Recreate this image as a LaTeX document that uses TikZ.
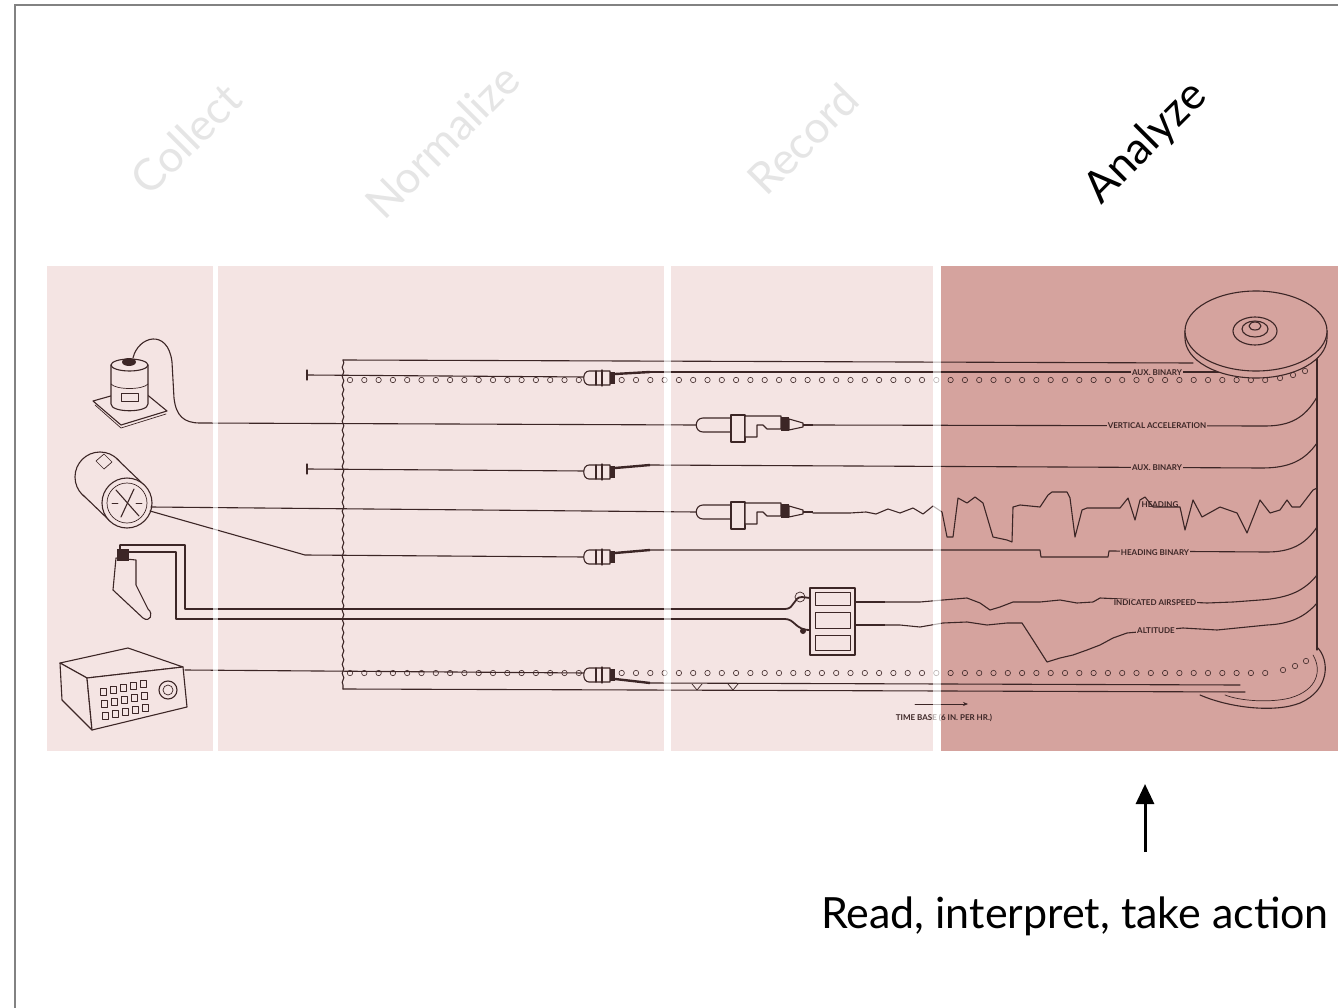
\documentclass[tikz,border=0pt]{standalone}
\usepackage{fontspec}
\setmainfont{Lato}
\usetikzlibrary{arrows.meta,decorations.pathmorphing}
\definecolor{panelL}{RGB}{244,228,227}
\definecolor{panelD}{RGB}{213,163,158}
\definecolor{inkc}{RGB}{60,38,38}
\definecolor{titlegray}{RGB}{229,229,229}
\definecolor{bordergray}{RGB}{130,130,130}
\begin{document}
\begin{tikzpicture}[x=1pt,y=-1pt,
  ink/.style={draw=inkc, line width=1.1pt, line cap=round, line join=round},
  thinink/.style={draw=inkc, line width=0.7pt, line cap=round, line join=round},
  heavy/.style={draw=inkc, line width=1.8pt, line join=round},
  pen/.style={draw=inkc, line width=2.4pt},
  hole/.style={draw=inkc, line width=0.6pt},
  tagfont/.style={font=\fontsize{8}{9}\selectfont\bfseries, text=inkc},
  tag/.style={tagfont, fill=panelD, inner sep=1.2pt},
  title/.style={rotate=45, font=\fontsize{44}{44}\selectfont, inner sep=0pt},
  smallconn/.pic={
    \draw[ink, fill=panelL] (-11,-7) -- (10,-7) -- (10,7) -- (-11,7) .. controls (-18,7) and (-18,-7) .. (-11,-7) -- cycle;
    \draw[ink] (-4,-7) -- (-4,7);
    \draw[ink] (2,-8) -- (2,8);
    \fill[inkc] (10,-6) rectangle (15,6);
  },
  penunit/.pic={
    \draw[ink, fill=panelL] (8,-7) .. controls (-1,-7) and (-1,7) .. (8,7) -- (36,7) -- (36,-7) -- cycle;
    \draw[ink, fill=panelL] (36,-10) rectangle (50,17);
    \draw[ink, fill=panelL] (50,-9) -- (86,-9) -- (86,4) -- (72,4) -- (68,0) -- (62,0) -- (62,12) -- (50,12) -- cycle;
    \fill[inkc] (86,-8) rectangle (94,6);
    \draw[ink, fill=panelL] (94,-6) -- (108,-2) -- (108,2) -- (94,5) -- cycle;
    \draw[heavy] (108,0) -- (118,0);
  }
]
\useasboundingbox (0,0) rectangle (1338,1008);
\fill[white] (0,0) rectangle (1338,1008);

% panels
\fill[panelL] (47,266) rectangle (213,751);
\fill[panelL] (218,266) rectangle (664,751);
\fill[panelL] (671,266) rectangle (933,751);
\fill[panelD] (941,266) rectangle (1338,751);

% tape frame
\draw[ink, decorate, decoration={snake, amplitude=0.8pt, segment length=9pt}] (343,360) -- (343,689);
\draw[ink] (343,360) -- (1193,363);
\draw[ink] (343,689) -- (1245,692);

% sprocket holes
\foreach \i in {0,...,64} \draw[hole] ({350+\i*14.3},380) circle (2.7);
\foreach \p in {(1280,378),(1293,375),(1305,371)} \draw[hole] \p circle (2.7);
\foreach \i in {0,...,64} \draw[hole] ({350+\i*14.3},673) circle (2.7);
\foreach \p in {(1283,670),(1295,666),(1306,661)} \draw[hole] \p circle (2.7);

% ---------- sensor 1 : accelerometer ----------
\draw[ink, fill=panelL] (93,401) -- (121,425) -- (167,411) -- (139,388) -- cycle;
\draw[thinink] (95,405) -- (121,428) -- (166,414);
\draw[ink, fill=panelL] (111,365) -- (111,404) .. controls (111,413) and (148,413) .. (148,404) -- (148,365);
\draw[ink, fill=panelL] (129.5,365) ellipse [x radius=18.5, y radius=6];
\draw[thinink] (111,384) .. controls (116,390) and (143,390) .. (148,384);
\draw[thinink] (121,393) rectangle (138,401);
\fill[inkc] (129,362) ellipse [x radius=7, y radius=4];
\coordinate (s1out) at (133,358);
\draw[ink] (s1out) .. controls (138,336) and (168,328) .. (172,362) -- (174,398) .. controls (176,416) and (184,423) .. (200,423) -- (696,425);

% ---------- sensor 2 : cylinder gauge ----------
\draw[ink, fill=panelL] (100,477) circle (25);
\fill[panelL] (144,485) -- (117,459) -- (83,495) -- (110,521) -- cycle;
\draw[ink] (144,485) -- (117,459);
\draw[ink] (83,495) -- (110,521);
\draw[thinink] (96,461) -- (104,454) -- (112,462) -- (104,469) -- cycle;
\draw[ink, fill=panelL] (127,503) circle (25);
\draw[thinink] (127,503) circle (20);
\draw[ink] (116,490) -- (139,516);
\draw[ink] (121,517) -- (134,489);
\draw[thinink] (112,503) -- (118,503);
\draw[thinink] (136,503) -- (142,503);
\coordinate (s2a) at (151,507);
\coordinate (s2b) at (150,511);
\draw[ink] (s2a) -- (696,512);
\draw[ink] (s2b) -- (305,555) -- (585,557);

% ---------- sensor 3 : pitot probe ----------
\draw[ink, fill=panelL] (116,558) -- (113,590) -- (143,618) .. controls (150,623) and (154,614) .. (148,609) -- (136,585) -- (136,560) -- cycle;
\fill[inkc] (117,549) rectangle (129,561);
\draw[heavy] (120,556) -- (120,545) -- (185,545) -- (185,609) -- (785,609) .. controls (795,609) and (793,597) .. (802,597) -- (810,598);
\draw[heavy] (127,556) -- (127,552) -- (176,552) -- (176,619) -- (785,619) .. controls (795,619) and (795,630) .. (810,630);
\draw[thinink] (800,597) circle (5);
\fill[inkc] (803,631) circle (3);

% ---------- sensor 4 : radio box ----------
\draw[ink, fill=panelL] (60,663) -- (128,648) -- (183,667) -- (87,678) -- cycle;
\draw[ink, fill=panelL] (60,663) -- (87,678) -- (92,730) -- (62,700) -- cycle;
\draw[ink, fill=panelL] (87,678) -- (183,667) -- (187,707) -- (92,730) -- cycle;
\foreach \c in {0,1,2,3,4} {
  \draw[thinink] ({100+\c*10},{688-\c*2}) rectangle ++(6,7);
  \draw[thinink] ({101+\c*10},{700-\c*2}) rectangle ++(6,7);
  \draw[thinink] ({102+\c*10},{712-\c*2}) rectangle ++(6,7);
}
\draw[ink] (168,690) circle (9);
\draw[thinink] (168,690) circle (5);
\coordinate (s4out) at (185,670);
\draw[ink] (s4out) -- (585,673);

% ---------- aux binary lines ----------
\coordinate (aux1) at (307,375);
\coordinate (aux2) at (307,469);
\draw[ink] (307,370) -- (307,380);
\draw[ink] (307,464) -- (307,474);
\draw[ink] (aux1) -- (585,377);
\draw[ink] (aux2) -- (585,471);

% ---------- connectors ----------
\pic (c1) at (600,378) {smallconn};
\pic (c3) at (600,472) {smallconn};
\pic (c5) at (600,557) {smallconn};
\pic (c6) at (600,675) {smallconn};
\pic (c2) at (695,425) {penunit};
\pic (c4) at (695,512) {penunit};

\draw[pen] (615,374) -- (650,372);
\draw[pen] (615,468) -- (650,465);
\draw[pen] (615,553) -- (650,550);
\draw[pen] (615,679) -- (650,683);

% dual recorder
\draw[ink, fill=panelL] (810,588) rectangle (855,655);
\draw[thinink] (815,592) rectangle (850,605);
\draw[thinink] (815,612) rectangle (850,628);
\draw[thinink] (815,635) rectangle (850,650);
\draw[heavy] (855,602) -- (885,602);
\draw[heavy] (855,625) -- (885,625);

% ---------- traces on the tape ----------
\draw[ink] (650,372) -- (1230,372);
\draw[ink] (813,425) -- (1265,426) .. controls (1290,426) and (1305,418) .. (1317,397);
\draw[ink] (650,465) -- (1262,468) .. controls (1290,468) and (1305,460) .. (1317,443);
\draw[ink] (813,513) -- (850,513) -- (866,512) -- (876,514) -- (888,509) -- (900,513) -- (913,508) -- (923,514) -- (933,506) -- (942,512) -- (947,537) -- (953,537) -- (958,498) -- (967,503) -- (975,497) -- (983,503) -- (993,537) -- (1007,540) -- (1012,542) -- (1013,507) -- (1020,505) -- (1040,507) -- (1048,495) -- (1052,492) -- (1067,492) -- (1070,498) -- (1075,537) -- (1082,510) -- (1087,508) -- (1120,508) -- (1128,498) -- (1135,520) -- (1140,500) -- (1145,497) -- (1153,507) -- (1180,507) -- (1185,530) -- (1193,500) -- (1202,517) -- (1220,507) -- (1237,513) -- (1247,533) -- (1260,500) -- (1270,513) -- (1280,510) -- (1287,500) -- (1292,507) -- (1300,507) -- (1313,490) -- (1317,488);
\draw[ink] (650,550) -- (1040,550) -- (1041,557) -- (1108,557) -- (1109,551) -- (1267,552) .. controls (1290,552) and (1305,545) .. (1317,527);
\draw[ink] (885,602) -- (900,602) -- (920,602) -- (943,600) -- (967,598) -- (980,603) -- (990,610) -- (1000,607) -- (1013,602) -- (1040,602) -- (1060,600) -- (1077,603) -- (1093,602) -- (1100,598) -- (1207,603) -- (1233,602) -- (1260,600) .. controls (1290,598) and (1305,590) .. (1317,575);
\draw[ink] (885,625) -- (900,625) -- (920,627) -- (943,623) -- (967,622) -- (987,625) -- (1007,623) -- (1022,623) -- (1033,640) -- (1047,662) -- (1060,658) -- (1073,655) -- (1087,650) -- (1100,645) -- (1113,638) -- (1127,633) -- (1183,628) -- (1217,630) -- (1247,627) -- (1267,625) .. controls (1290,624) and (1305,617) .. (1317,603);
\draw[ink] (650,683) -- (1240,685);
\draw[thinink] (692,684) -- (697,690) -- (702,684);
\draw[thinink] (728,684) -- (733,690) -- (738,684);

% ---------- reel ----------
\draw[ink] (1317,345) -- (1317,650);
\draw[ink] (1317,647) .. controls (1330,660) and (1330,690) .. (1300,703) .. controls (1275,713) and (1230,708) .. (1200,695);
\draw[thinink] (1313,655) .. controls (1322,670) and (1318,690) .. (1290,698) .. controls (1270,703) and (1240,701) .. (1225,695);
\draw[ink, fill=panelD] (1185,331) -- (1185,338) arc[start angle=180, end angle=0, x radius=71, y radius=40] -- (1327,331) -- cycle;
\draw[ink, fill=panelD] (1256,331) ellipse [x radius=71, y radius=40];
\draw[ink] (1255,331) ellipse [x radius=22, y radius=14];
\draw[ink] (1255,329) ellipse [x radius=13, y radius=8];
\draw[ink] (1255,326) ellipse [x radius=6, y radius=4];

% ---------- tape labels ----------
\node[tag] (lab1) at (1157,373) {AUX. BINARY};
\node[tag] (lab2) at (1157,426) {VERTICAL ACCELERATION};
\node[tag] (lab3) at (1157,468) {AUX. BINARY};
\node[tagfont, inner sep=1pt] (lab4) at (1160,505) {HEADING};
\node[tag] (lab5) at (1155,553) {HEADING BINARY};
\node[tag] (lab6) at (1155,603) {INDICATED AIRSPEED};
\node[tag] (lab7) at (1156,631) {ALTITUDE};
\coordinate (tbs) at (915,704);
\coordinate (tbe) at (968,704);
\draw[thinink, -{Stealth[length=5pt,width=4pt]}] (tbs) -- (tbe);
\node[tagfont, inner sep=1pt] (tb) at (944,718) {TIME BASE (6 IN. PER HR.)};

% white gaps between panels
\fill[white, opacity=0.65] (213,266) rectangle (218,751);
\fill[white, opacity=0.65] (664,266) rectangle (671,751);
\fill[white, opacity=0.65] (933,266) rectangle (941,751);

% ---------- titles ----------
\node[title, text=titlegray] (collect) at (186,139) {Collect};
\node[title, text=titlegray] (normalize) at (442,141) {Normalize};
\node[title, text=titlegray] (record) at (803,139) {Record};
\node[title, text=black] (analyze) at (1146,143) {Analyze};

% ---------- arrow and caption ----------
\coordinate (arrtail) at (1145,852);
\coordinate (arrhead) at (1145,784);
\draw[line width=3pt, -{Triangle[length=20pt,width=18pt]}] (arrtail) -- (arrhead);
\node[anchor=base west, font=\fontsize{43}{44}\selectfont, inner sep=0pt] (caption) at (821,928) {Read, interpret, take action};

% border
\draw[bordergray, line width=1.5pt] (15,1012) -- (15,5) -- (1342,5);
\end{tikzpicture}
\end{document}
